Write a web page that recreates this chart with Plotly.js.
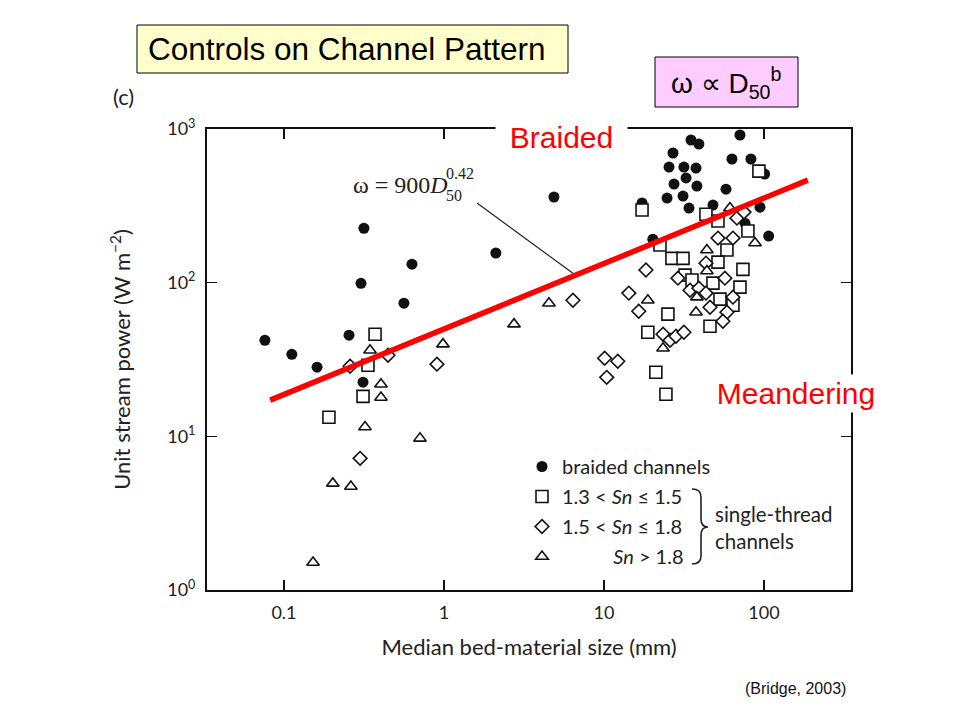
<!DOCTYPE html>
<html><head><meta charset="utf-8">
<script src="https://cdn.plot.ly/plotly-3.0.1.min.js"></script>
<style>html,body{margin:0;padding:0;background:#fff;}#chart{width:960px;height:720px;}</style>
</head><body><div id="chart"></div>
<script>
// ---- data (median bed-material size D50 in mm, unit stream power in W m^-2) ----
const braidedD = [0.076, 0.112, 0.161, 0.255, 0.316, 0.303, 0.312, 0.562, 0.631, 2.11,
  4.87, 70.8, 35.0, 39.2, 27.0, 63.1, 82.9, 25.5, 31.6, 37.6,
  101, 32.6, 27.4, 38.1, 57.9, 24.8, 31.2, 34.0, 48.0, 94.4,
  17.3, 107, 20.2, 76.1];
const braidedW = [42.2, 34.2, 28.2, 45.5, 226, 99, 22.5, 73.5, 132, 156,
  361, 914, 848, 798, 698, 638, 638, 565, 565, 557,
  509, 480, 438, 425, 406, 355, 366, 306, 320, 310,
  330, 201, 192, 244];
const sn13D = [0.371, 0.335, 0.312, 0.191, 17.3, 93.0, 43.4, 51.6, 79.4, 22.4, 26.6, 31.2, 58.7,
  51.6, 73.9, 32.1, 35.5, 48.0, 70.8, 53.1, 64.0, 46.0, 25.1, 18.8, 21.1, 24.4];
const sn13W = [46.2, 29.0, 18.2, 13.3, 297, 532, 279, 252, 217, 176, 144, 144, 163,
  136, 122, 112, 104, 99.3, 93.5, 78.1, 71.3, 52.1, 62.4, 47.6, 26.1, 18.8];
const sn15D = [0.259, 0.447, 0.299, 0.904, 6.40, 10.1, 12.2, 10.4, 14.3, 18.3, 16.5, 29.0, 34.5, 39.2, 43.4,
  43.4, 57.0, 64.0, 46.0, 58.7, 55.4, 23.4, 25.9, 28.2, 31.6, 51.6, 64.0, 67.8, 75.0];
const sn15W = [28.6, 33.7, 7.19, 29.5, 76.9, 32.2, 30.8, 24.2, 85.5, 121, 65.2, 107, 89.3, 92.1, 85.5,
  134, 107, 80.5, 69.2, 64.2, 56.1, 46.2, 42.2, 44.8, 47.6, 195, 195, 263, 288];
const sn18D = [0.345, 0.404, 0.404, 0.321, 0.202, 0.262, 0.152, 0.708, 0.986, 2.74,
  4.53, 18.8, 23.4, 37.6, 44.0, 87.9, 61.3, 44.0, 38.1];
const sn18W = [36.3, 21.8, 17.9, 11.5, 4.94, 4.72, 1.51, 9.7, 39.8, 53.7,
  73.5, 76.9, 37.4, 64.2, 163, 181, 306, 119, 80.5];
// red trend line ω ∝ D50^b (end points)
const trendD = [0.082, 188];
const trendW = [17.2, 465];
// leader line from the equation label to the printed curve
const leaderD = [1.61, 6.40];
const leaderW = [330, 115];
// ticks and labels
const xTickVals = [0.1, 1, 10, 100];
const xTickText = ['0.1', '1', '10', '100'];
const yTickVals = [1, 10, 100, 1000];
const yTickText = ['10<sup>0</sup>', '10<sup>1</sup>', '10<sup>2</sup>', '10<sup>3</sup>'];
const seriesNames = ['braided channels', '1.3 &lt; <i>Sn</i> ≤ 1.5', '1.5 &lt; <i>Sn</i> ≤ 1.8',
  '&nbsp;&nbsp;&nbsp;&nbsp;&nbsp;&nbsp;&nbsp;&nbsp;&nbsp;&nbsp;<i>Sn</i> &gt; 1.8'];

// ---- layout helpers (pixel -> paper) ----
const L = 207, R = 851, T = 129, B = 590;
const px = x => (x - L) / (R - L);
const py = y => (B - y) / (B - T);
const FIG = 'Lato, "Open Sans", sans-serif';
const INK = '#222';
const ARIAL = 'Arial, "Liberation Sans", sans-serif';
const SERIF = '"Liberation Serif", "DejaVu Serif", serif';

const open = (sym, size) => ({symbol: sym, size: size, color: '#ffffff', line: {color: '#111', width: 1.6}});
const traces = [
  {x: braidedD, y: braidedW, mode: 'markers', type: 'scatter', name: seriesNames[0], legendgroup: 'a',
   marker: {symbol: 'circle', size: 11, color: '#111', line: {width: 0}}},
  {x: sn13D, y: sn13W, mode: 'markers', type: 'scatter', name: seriesNames[1], legendgroup: 'b', marker: open('square', 12)},
  {x: sn15D, y: sn15W, mode: 'markers', type: 'scatter', name: seriesNames[2], legendgroup: 'c', marker: open('diamond', 10.5)},
  {x: sn18D, y: sn18W, mode: 'markers', type: 'scatter', name: seriesNames[3], legendgroup: 'd', marker: open('triangle-up', 11)},
  {x: leaderD, y: leaderW, mode: 'lines', type: 'scatter', showlegend: false, line: {color: INK, width: 1.2}},
  {x: trendD, y: trendW, mode: 'lines', type: 'scatter', showlegend: false, line: {color: '#ff0000', width: 5.5}}
];

const brace = 'M' + px(692) + ',' + py(489) +
  ' Q' + px(701) + ',' + py(489) + ' ' + px(701) + ',' + py(497) +
  ' L' + px(701) + ',' + py(519) +
  ' Q' + px(701) + ',' + py(527) + ' ' + px(708) + ',' + py(527) +
  ' Q' + px(701) + ',' + py(527) + ' ' + px(701) + ',' + py(535) +
  ' L' + px(701) + ',' + py(556) +
  ' Q' + px(701) + ',' + py(564) + ' ' + px(692) + ',' + py(564);

const layout = {
  width: 960, height: 720,
  margin: {l: L, r: 960 - R, t: T, b: 720 - B, pad: 0},
  paper_bgcolor: '#ffffff', plot_bgcolor: '#ffffff',
  showlegend: true,
  legend: {x: px(522), y: py(447), xanchor: 'left', yanchor: 'top', bgcolor: 'rgba(0,0,0,0)',
    font: {family: FIG, size: 20, color: INK}, tracegroupgap: 1, itemwidth: 30},
  xaxis: {type: 'log', range: [-1.481, 2.544], tickvals: xTickVals, ticktext: xTickText,
    ticks: 'inside', ticklen: 10, tickwidth: 1.5, tickcolor: '#111',
    showline: true, linewidth: 2, linecolor: '#111', mirror: 'ticks', showgrid: false, zeroline: false,
    tickfont: {family: FIG, size: 18, color: INK}, ticklabelstandoff: 5,
    title: {text: 'Median bed-material size (mm)', font: {family: FIG, size: 22, color: INK}, standoff: 18}},
  yaxis: {type: 'log', range: [0, 3], tickvals: yTickVals, ticktext: yTickText,
    ticks: 'inside', ticklen: 10, tickwidth: 1.5, tickcolor: '#111',
    showline: true, linewidth: 2, linecolor: '#111', mirror: 'ticks', showgrid: false, zeroline: false,
    tickfont: {family: FIG, size: 18, color: INK}, ticklabelstandoff: 6,
    title: {text: 'Unit stream power (W m<sup>−2</sup>)', font: {family: FIG, size: 22, color: INK}, standoff: 30}},
  shapes: [
    {type: 'rect', xref: 'paper', yref: 'paper', x0: px(137), x1: px(568), y0: py(73), y1: py(25),
     fillcolor: '#ffffcc', line: {color: '#000', width: 1}},
    {type: 'rect', xref: 'paper', yref: 'paper', x0: px(655), x1: px(798), y0: py(107), y1: py(57),
     fillcolor: '#ffccff', line: {color: '#000', width: 1}},
    {type: 'path', xref: 'paper', yref: 'paper', path: brace, line: {color: INK, width: 1.6}}
  ],
  annotations: [
    {xref: 'paper', yref: 'paper', x: px(146), y: py(49), xanchor: 'left', yanchor: 'middle', showarrow: false,
     text: 'Controls on Channel Pattern', font: {family: ARIAL, size: 31.5, color: '#000'}},
    {xref: 'paper', yref: 'paper', x: px(726), y: py(83), xanchor: 'center', yanchor: 'middle', showarrow: false,
     text: 'ω ∝ D<sub>50</sub><sup>b</sup>', font: {family: ARIAL, size: 28, color: '#000'}},
    {xref: 'paper', yref: 'paper', x: px(123), y: py(97), xanchor: 'center', yanchor: 'middle', showarrow: false,
     text: '(c)', font: {family: FIG, size: 22, color: INK}},
    {xref: 'paper', yref: 'paper', x: px(561), y: py(137), xanchor: 'center', yanchor: 'middle', showarrow: false,
     text: 'Braided', width: 131, height: 36, bgcolor: '#ffffff', borderpad: 0,
     font: {family: ARIAL, size: 30, color: '#ff0000'}},
    {xref: 'paper', yref: 'paper', x: px(796), y: py(393), xanchor: 'center', yanchor: 'middle', showarrow: false,
     text: 'Meandering', width: 172, height: 37, bgcolor: '#ffffff', borderpad: 0,
     font: {family: ARIAL, size: 30, color: '#ff0000'}},
    {xref: 'paper', yref: 'paper', x: px(848), y: py(688), xanchor: 'right', yanchor: 'middle', showarrow: false,
     text: '(Bridge, 2003)', font: {family: ARIAL, size: 16, color: '#111'}},
    {xref: 'paper', yref: 'paper', x: px(351), y: py(185), xanchor: 'left', yanchor: 'middle', showarrow: false,
     text: 'ω = 900<i>D</i>', font: {family: SERIF, size: 24, color: INK}},
    {xref: 'paper', yref: 'paper', x: px(444), y: py(173), xanchor: 'left', yanchor: 'middle', showarrow: false,
     text: '0.42', font: {family: SERIF, size: 16, color: INK}},
    {xref: 'paper', yref: 'paper', x: px(444), y: py(195), xanchor: 'left', yanchor: 'middle', showarrow: false,
     text: '50', font: {family: SERIF, size: 16, color: INK}},
    {xref: 'paper', yref: 'paper', x: px(713), y: py(527.5), xanchor: 'left', yanchor: 'middle', align: 'left', showarrow: false,
     text: 'single-thread<br>channels', font: {family: FIG, size: 20.5, color: INK}}
  ]
};
Plotly.newPlot('chart', traces, layout, {displayModeBar: false, staticPlot: true});
</script></body></html>
